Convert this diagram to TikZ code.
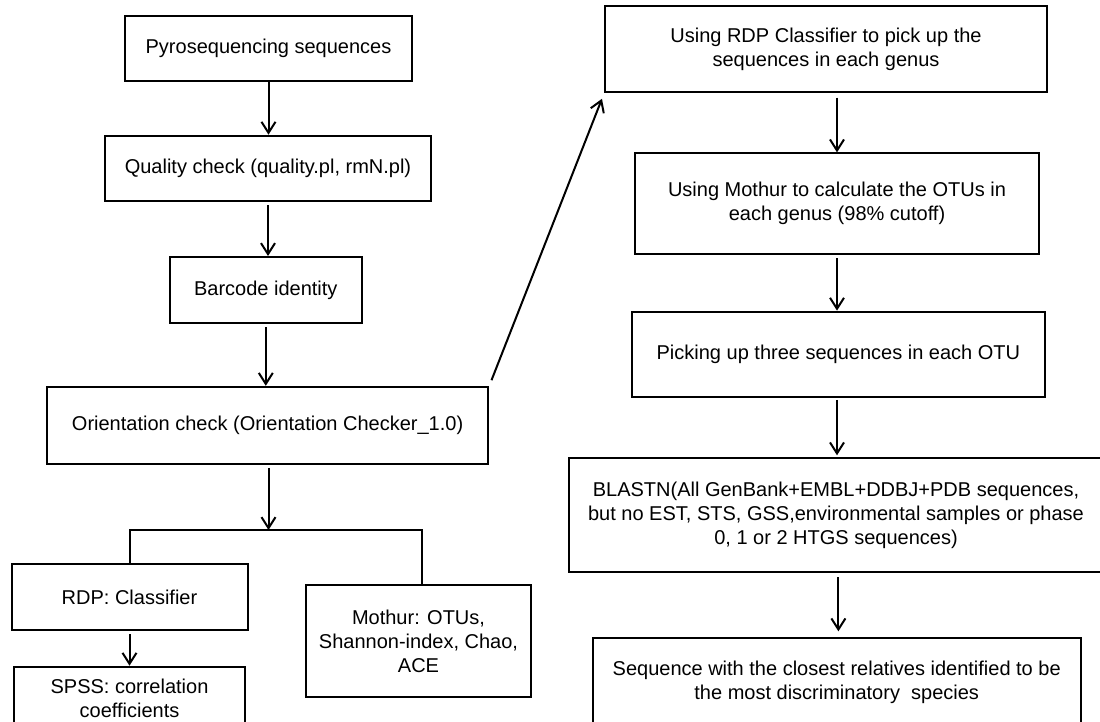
\documentclass[tikz,border=0pt]{standalone}
\usepackage{fontspec}
\setmainfont{Liberation Sans}
\usetikzlibrary{arrows.meta,calc}
\begin{document}
\begin{tikzpicture}[x=1pt,y=-1pt,
  box/.style={draw=black, line width=2pt, fill=white, inner sep=0pt, align=center,
    font=\fontsize{20}{24}\selectfont},
  arr/.style={line width=2pt, -{Straight Barb[length=11pt,width=14pt]}},
  link/.style={line width=2pt}]
\useasboundingbox (0,0) rectangle (1100,722);
% left column
\node[box, minimum width=287pt, minimum height=65pt] (pyro) at (268.5,48.5) {Pyrosequencing sequences};
\node[box, minimum width=326pt, minimum height=65.6pt] (quality) at (268,168.5) {Quality check (quality.pl, rmN.pl)};
\node[box, minimum width=191.6pt, minimum height=66pt] (barcode) at (265.8,290) {Barcode identity};
\node[box, minimum width=441.4pt, minimum height=77pt] (orient) at (267.6,425.3) {Orientation check (Orientation Checker\_1.0)};
\node[box, minimum width=236pt, minimum height=66pt] (rdp) at (129.5,597) {RDP: Classifier};
\node[box, minimum width=225pt, minimum height=112.3pt] (mothur) at (418.5,641.2) {Mothur: OTUs,\\Shannon-index, Chao,\\ACE};
\node[box, minimum width=231pt, minimum height=62.6pt] (spss) at (129.5,698) {SPSS: correlation\\coefficients};
% right column
\node[box, minimum width=441.7pt, minimum height=86pt] (clsf) at (826,49.2) {Using RDP Classifier to pick up the\\sequences in each genus};
\node[box, minimum width=404pt, minimum height=100.7pt] (otu) at (837,203.7) {Using Mothur to calculate the OTUs in\\each genus (98\% cutoff)};
\node[box, minimum width=412.2pt, minimum height=85.3pt] (pick) at (838.4,354.3) {Picking up three sequences in each OTU};
\node[box, minimum width=535pt, minimum height=113.4pt] (blast) at (836,515) {BLASTN(All GenBank+EMBL+DDBJ+PDB sequences,\\but no EST, STS, GSS,environmental samples or phase\\0, 1 or 2 HTGS sequences)};
\node[box, minimum width=488pt, minimum height=88pt] (final) at (836.7,682.3) {Sequence with the closest relatives identified to be\\the most discriminatory\ \ species};
% connectors left
\draw[arr] (pyro.south) -- (pyro.south |- quality.north);
\draw[arr, shorten <=3pt] (quality.south) -- (quality.south |- barcode.north);
\draw[arr, shorten <=3pt] (barcode.south) -- (barcode.south |- orient.north);
\coordinate (bar) at (268.5,530);
\draw[arr, shorten <=3pt] (orient.south -| bar) -- (bar);
\draw[link] (rdp.north) -- (rdp.north |- bar) -- ($(mothur.north |- bar)+(3,0)$) -- ($(mothur.north)+(3,0)$);
\draw[arr, shorten <=3pt] (rdp.south) -- (rdp.south |- spss.north);
% connectors right
\draw[arr, shorten <=4.5pt] (clsf.south -| otu.north) -- (otu.north);
\draw[arr, shorten <=3pt] (otu.south) -- (otu.south |- pick.north);
\draw[arr, shorten <=2pt, shorten >=2pt] (pick.south -| otu.south) -- (otu.south |- blast.north);
\draw[arr, shorten <=4.5pt, shorten >=6pt] (blast.south -| pick.south) -- (pick.south |- final.north);
\draw[arr, shorten <=6pt, shorten >=6pt] (orient.north east) -- (clsf.south west);
\end{tikzpicture}
\end{document}
